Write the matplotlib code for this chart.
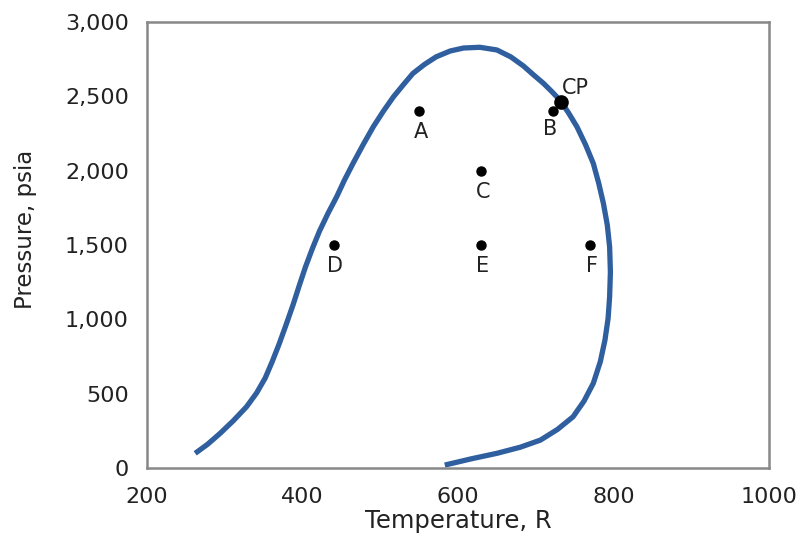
import numpy as np
import matplotlib.pyplot as plt
from matplotlib.ticker import FuncFormatter

# phase envelope (T in R, P in psia)
env_T = [262, 278, 294, 311, 328, 341, 352, 361, 370, 379, 388, 396, 404, 413,
         422, 433, 444, 454, 465, 478, 491, 504, 517, 530, 542, 557, 572, 590,
         607, 628, 650, 668, 684, 697, 710, 721, 731, 742, 753, 764, 774, 781,
         787, 792, 795, 796, 795, 793, 789, 783, 774, 762, 748, 728, 706, 680,
         650, 617, 583]
env_P = [99, 160, 233, 318, 412, 505, 605, 715, 835, 965, 1100, 1230, 1355, 1480,
         1595, 1715, 1825, 1937, 2049, 2175, 2295, 2400, 2497, 2580, 2654, 2715,
         2766, 2805, 2825, 2830, 2812, 2765, 2705, 2645, 2587, 2530, 2475, 2390,
         2295, 2175, 2049, 1915, 1780, 1635, 1488, 1320, 1152, 1005, 861, 715,
         570, 450, 345, 260, 188, 140, 99, 62, 20]

pt_names = ["A", "B", "C", "D", "E", "F"]
pt_T = [550, 722, 630, 440, 630, 770]
pt_P = [2400, 2400, 2000, 1500, 1500, 1500]

cp_T = 733
cp_P = 2465

plt.rcParams['font.family'] = ['DejaVu Sans']

fig = plt.figure(figsize=(8.04, 5.5), dpi=100)
ax = fig.add_axes([0.1828, 0.149, 0.7737, 0.811])

ax.plot(env_T, env_P, color="#2f5f9e", lw=3.8, solid_capstyle="butt",
        solid_joinstyle="round")
ax.plot(pt_T, pt_P, "o", color="black", ms=6.5, ls="none")
ax.plot(cp_T, cp_P, "o", color="black", ms=9.5, ls="none")

for name, t, p in zip(pt_names, pt_T, pt_P):
    dx, dy = (-2, -13) if name == "B" else (1, -15)
    ax.annotate(name, (t, p), xytext=(dx, dy), textcoords="offset points",
                ha="center", va="center", fontsize=15, color="#222222")
ax.annotate("CP", (cp_T, cp_P), xytext=(10, 10), textcoords="offset points",
            ha="center", va="center", fontsize=15, color="#222222")

ax.set_xlim(200, 1000)
ax.set_ylim(0, 3000)
ax.set_xticks([200, 400, 600, 800, 1000])
ax.set_yticks(range(0, 3001, 500))
ax.yaxis.set_major_formatter(FuncFormatter(lambda v, pos: f"{int(v):,}"))
ax.tick_params(length=0, labelsize=16, colors="#222222")
ax.tick_params(axis="x", pad=14)
ax.tick_params(axis="y", pad=13)

for s in ax.spines.values():
    s.set_color("#888888")
    s.set_linewidth(1.8)

ax.set_xlabel("Temperature, R", fontsize=17.5, color="#222222", labelpad=1)
ax.set_ylabel("Pressure, psia", fontsize=16.5, color="#222222")
ax.yaxis.set_label_coords(-0.177, 0.534)

fig.savefig("out.png", dpi=100)
